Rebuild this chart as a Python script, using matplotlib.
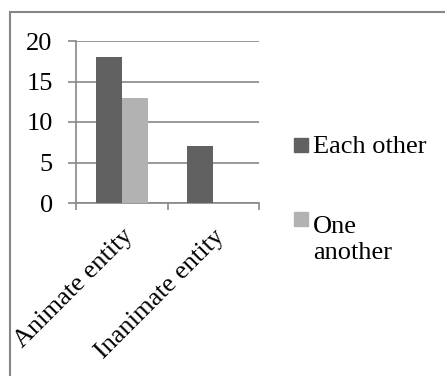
import matplotlib
matplotlib.use("Agg")
import matplotlib.pyplot as plt
from matplotlib.patches import Rectangle

plt.rcParams['font.family'] = ['Liberation Serif', 'DejaVu Serif']

categories = ["Animate entity", "Inanimate entity"]
each_other = [18, 7]
one_another = [13, 0]
series_names = ["Each other", "One\nanother"]
dark = "#616161"
light = "#b2b2b2"
grey = "#878787"

W, H = 445, 376
def fx(px):
    return px / W
def fy(py):
    return 1 - py / H

fig = plt.figure(figsize=(4.45, 3.76), dpi=100)
ax = fig.add_axes([fx(76), fy(203), fx(259) - fx(76), fy(41) - fy(203)])

x = range(len(categories))
w = 0.284
ax.bar([i - w/2 for i in x], each_other, w, color=dark, zorder=3)
ax.bar([i + w/2 for i in x], one_another, w, color=light, zorder=3)

ax.set_xlim(-0.5, 1.5)
ax.set_ylim(0, 20)
ax.set_yticks([0, 5, 10, 15, 20])
ax.yaxis.grid(True, color=grey, linewidth=1.2, zorder=0)
ax.tick_params(axis='y', length=5.8, width=1.2, color=grey, labelsize=19, pad=11)

# ticks on category boundaries, names between them
ax.set_xticks([-0.5, 0.5, 1.5])
ax.set_xticklabels([])
ax.set_xticks(list(x), minor=True)
ax.set_xticklabels(categories, minor=True, rotation=45, ha='right', va='top',
                   rotation_mode='anchor', fontsize=19)
ax.tick_params(axis='x', which='major', length=5, width=1.2, color=grey)
ax.tick_params(axis='x', which='minor', length=0, pad=16)

for s in ['top', 'right']:
    ax.spines[s].set_visible(False)
for s in ['left', 'bottom']:
    ax.spines[s].set_color(grey)
    ax.spines[s].set_linewidth(1.2)

# legend drawn by hand so the square sits on the first line of "One another"
legend_colors = [dark, light]
legend_rows = [138, 212]
line_h = 31.7
for name, col, top in zip(series_names, legend_colors, legend_rows):
    fig.patches.append(Rectangle((fx(294), fy(top + 14)), fx(14), 14 / H,
                                 transform=fig.transFigure, color=col))
    # va='baseline' puts the last line on y
    n_extra = name.count("\n")
    fig.text(fx(313), fy(top + 15 + line_h * n_extra), name, fontsize=19,
             ha='left', va='baseline', linespacing=1.2)

# outer chart border (only its top and left edges fall inside the picture)
fig.patches.append(Rectangle((fx(10), -0.1), 1.2, fy(12) + 0.1,
                             transform=fig.transFigure, fill=False,
                             edgecolor=grey, linewidth=1.5))

fig.savefig("out.png", dpi=100)
